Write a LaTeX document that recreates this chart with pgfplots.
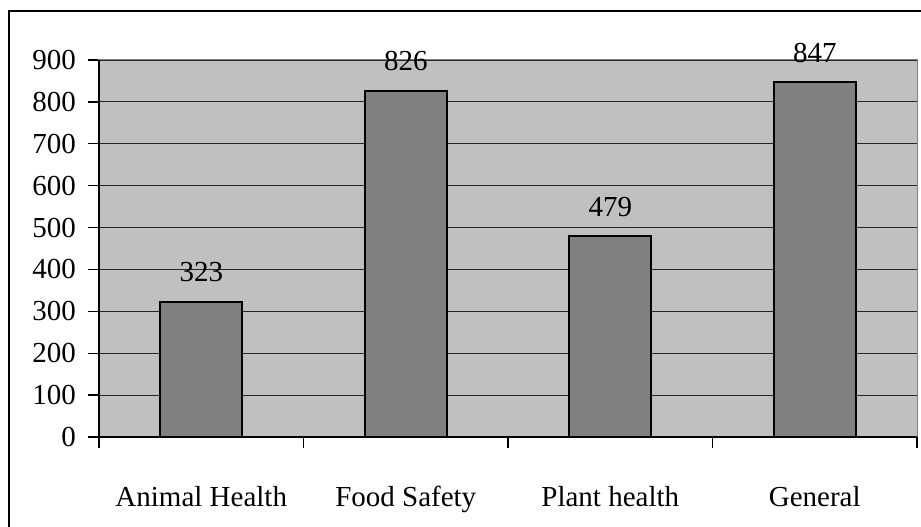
\documentclass[border=0pt]{standalone}
\usepackage{pgfplots}
\pgfplotsset{compat=1.18}
\usepackage{fontspec}
\setmainfont{Liberation Serif}
\definecolor{plotbg}{HTML}{C0C0C0}
\definecolor{barfill}{HTML}{808080}
\begin{document}
\begin{tikzpicture}[x=1pt,y=1pt]
\begin{axis}[
  at={(99pt,90pt)}, anchor=south west,
  scale only axis, width=818pt, height=377pt,
  xmin=-0.5, xmax=3.5, ymin=0, ymax=900,
  ytick={0,100,...,900},
  xtick={0,1,2,3},
  xticklabels={Animal Health, Food Safety, Plant health, General},
  minor xtick={-0.5,0.5,1.5,2.5,3.5},
  xtick pos=bottom, ytick pos=left,
  major x tick style={draw=none},
  tick align=outside,
  major tick length=11pt, minor tick length=11pt,
  every tick/.style={black, line width=1.3pt},
  ymajorgrids,
  major grid style={black!85, line width=1.1pt},
  axis background/.style={fill=plotbg},
  axis line style={draw=barfill, line width=1pt},
  /pgf/number format/assume math mode=true,
  tick label style={font=\fontsize{29}{34}\selectfont},
  yticklabel style={anchor=east, inner sep=0pt, xshift=-12pt},
  xticklabel style={anchor=base, inner sep=0pt, yshift=-59pt},
  ybar, bar width=82pt,
  nodes near coords,
  nodes near coords style={font=\fontsize{29}{34}\selectfont, anchor=base, inner sep=0pt, yshift=20pt},
  clip=false,
]
\addplot[fill=barfill, draw=black, line width=1.8pt] coordinates {(0,323) (1,826) (2,479) (3,847)};
\draw[black, line width=1.5pt] (rel axis cs:0,1) -- (rel axis cs:0,0) -- (rel axis cs:1,0);
\end{axis}
\draw[black, line width=2.4pt] (9,-20) -- (9,516) -- (940,516);
\pgfresetboundingbox
\useasboundingbox (0,0) rectangle (921,527);
\end{tikzpicture}
\end{document}
